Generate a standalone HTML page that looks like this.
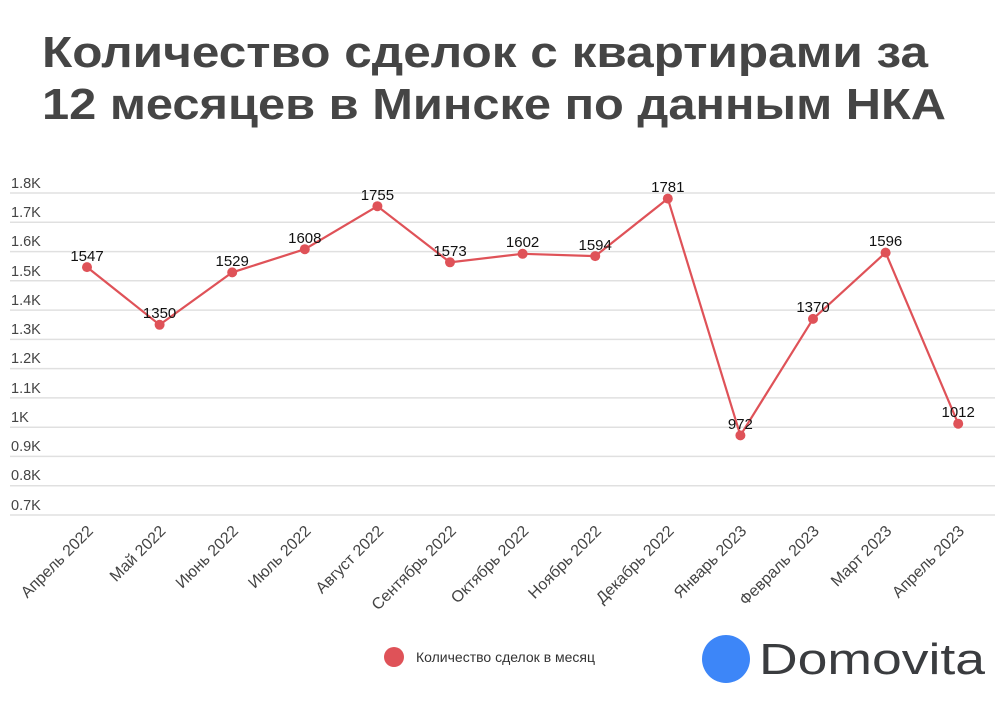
<!DOCTYPE html>
<html><head><meta charset="utf-8"><style>
body{margin:0;background:#fff;}
svg text{font-family:"Liberation Sans",sans-serif;}
</style></head><body>
<svg width="1000" height="700" viewBox="0 0 1000 700" xmlns="http://www.w3.org/2000/svg">
<text x="42" y="67" font-size="44" font-weight="bold" fill="#454545" textLength="886" lengthAdjust="spacingAndGlyphs">Количество сделок с квартирами за</text>
<text x="42" y="119" font-size="44" font-weight="bold" fill="#454545" textLength="904" lengthAdjust="spacingAndGlyphs">12 месяцев в Минске по данным НКА</text>
<g stroke="#e0e0e0" stroke-width="1.5">
<line x1="10" x2="995" y1="193" y2="193"/><line x1="10" x2="995" y1="222.3" y2="222.3"/><line x1="10" x2="995" y1="251.6" y2="251.6"/><line x1="10" x2="995" y1="280.8" y2="280.8"/><line x1="10" x2="995" y1="310.1" y2="310.1"/><line x1="10" x2="995" y1="339.4" y2="339.4"/><line x1="10" x2="995" y1="368.6" y2="368.6"/><line x1="10" x2="995" y1="397.9" y2="397.9"/><line x1="10" x2="995" y1="427.2" y2="427.2"/><line x1="10" x2="995" y1="456.4" y2="456.4"/><line x1="10" x2="995" y1="485.7" y2="485.7"/><line x1="10" x2="995" y1="515" y2="515"/>
</g>
<g font-size="14.5" fill="#444">
<text x="11" y="188">1.8K</text><text x="11" y="217">1.7K</text><text x="11" y="246">1.6K</text><text x="11" y="276">1.5K</text><text x="11" y="305">1.4K</text><text x="11" y="334">1.3K</text><text x="11" y="363">1.2K</text><text x="11" y="393">1.1K</text><text x="11" y="422">1K</text><text x="11" y="451">0.9K</text><text x="11" y="480">0.8K</text><text x="11" y="510">0.7K</text>
</g>
<polyline fill="none" stroke="#df5258" stroke-width="2.2" points="87,267.1 159.6,324.8 232.2,272.4 304.8,249.2 377.4,206.2 450,262.3 522.6,253.8 595.2,256.1 667.8,198.6 740.4,435.4 813,318.9 885.6,252.6 958.2,423.7"/>
<g fill="#df5258">
<circle cx="87" cy="267.1" r="5"/><circle cx="159.6" cy="324.8" r="5"/><circle cx="232.2" cy="272.4" r="5"/><circle cx="304.8" cy="249.2" r="5"/><circle cx="377.4" cy="206.2" r="5"/><circle cx="450" cy="262.3" r="5"/><circle cx="522.6" cy="253.8" r="5"/><circle cx="595.2" cy="256.1" r="5"/><circle cx="667.8" cy="198.6" r="5"/><circle cx="740.4" cy="435.4" r="5"/><circle cx="813" cy="318.9" r="5"/><circle cx="885.6" cy="252.6" r="5"/><circle cx="958.2" cy="423.7" r="5"/>
</g>
<g font-size="15" fill="#111" text-anchor="middle">
<text x="87" y="261">1547</text><text x="159.6" y="318">1350</text><text x="232.2" y="266">1529</text><text x="304.8" y="243">1608</text><text x="377.4" y="200">1755</text><text x="450" y="256">1573</text><text x="522.6" y="247">1602</text><text x="595.2" y="250">1594</text><text x="667.8" y="192">1781</text><text x="740.4" y="429">972</text><text x="813" y="312">1370</text><text x="885.6" y="246">1596</text><text x="958.2" y="417">1012</text>
</g>
<g font-size="16" fill="#444" text-anchor="end">
<text transform="translate(94,532) rotate(-45)">Апрель 2022</text>
<text transform="translate(166.6,532) rotate(-45)">Май 2022</text>
<text transform="translate(239.2,532) rotate(-45)">Июнь 2022</text>
<text transform="translate(311.8,532) rotate(-45)">Июль 2022</text>
<text transform="translate(384.4,532) rotate(-45)">Август 2022</text>
<text transform="translate(457,532) rotate(-45)">Сентябрь 2022</text>
<text transform="translate(529.6,532) rotate(-45)">Октябрь 2022</text>
<text transform="translate(602.2,532) rotate(-45)">Ноябрь 2022</text>
<text transform="translate(674.8,532) rotate(-45)">Декабрь 2022</text>
<text transform="translate(747.4,532) rotate(-45)">Январь 2023</text>
<text transform="translate(820,532) rotate(-45)">Февраль 2023</text>
<text transform="translate(892.6,532) rotate(-45)">Март 2023</text>
<text transform="translate(965.2,532) rotate(-45)">Апрель 2023</text>
</g>
<circle cx="394" cy="657" r="10" fill="#df5258"/>
<text x="416" y="662" font-size="14" fill="#333">Количество сделок в месяц</text>
<circle cx="726" cy="659" r="24" fill="#3d86f8"/>
<text x="759" y="674" font-size="44" fill="#3a3c3f" textLength="226" lengthAdjust="spacingAndGlyphs">Domovita</text>
</svg>
</body></html>
